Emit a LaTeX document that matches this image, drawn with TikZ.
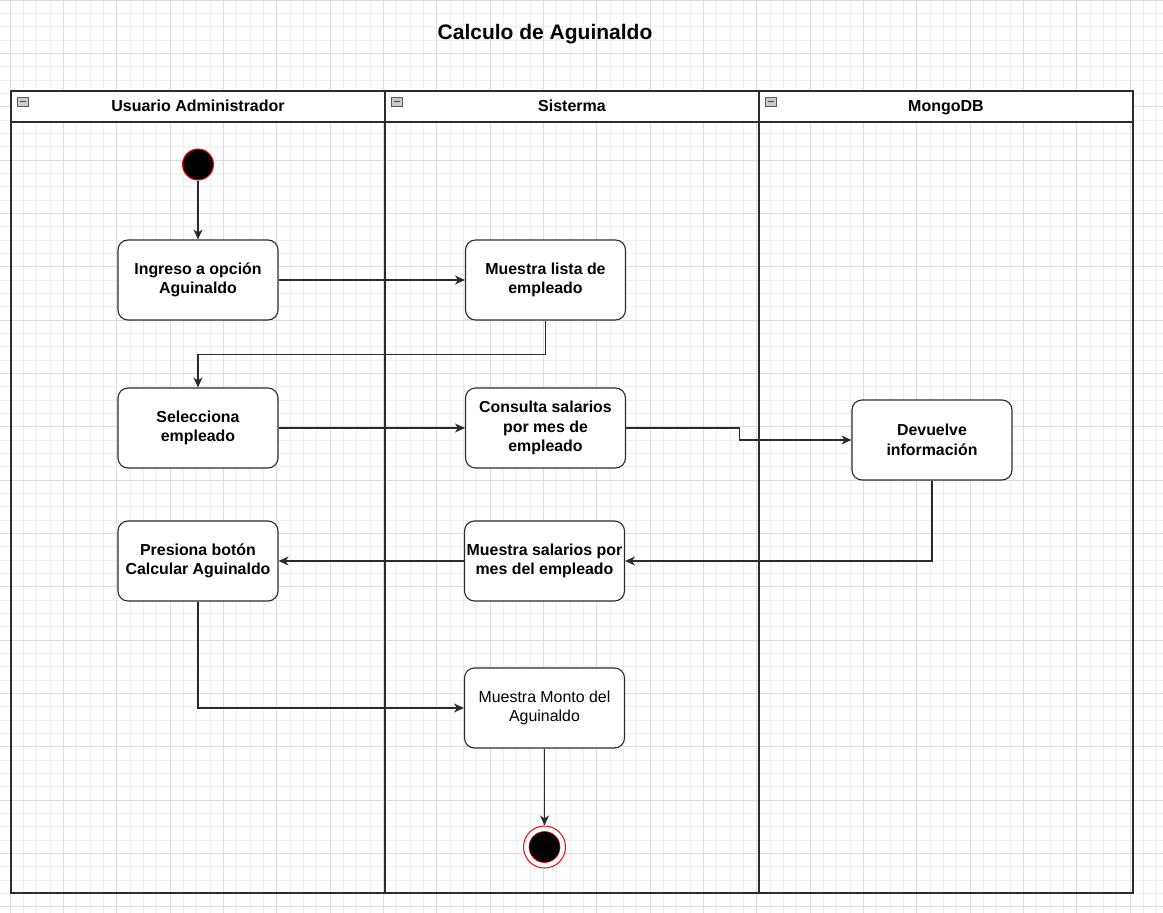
\documentclass[tikz,border=0pt]{standalone}
\usepackage{fontspec}
\setmainfont{Liberation Sans}
\usetikzlibrary{arrows.meta}
\definecolor{gridminor}{HTML}{F0F0F0}
\definecolor{gridmajor}{HTML}{DDDDDD}
\definecolor{linec}{HTML}{2B2B2B}
\definecolor{startred}{HTML}{FF0000}
\definecolor{icongray}{HTML}{C8CCD0}
\begin{document}
\begin{tikzpicture}[x=1pt,y=-1pt,
  act/.style={draw=linec, line width=1.1pt, rounded corners=10pt, fill=white,
    minimum width=160pt, minimum height=80pt, align=center, inner sep=2pt,
    font=\fontsize{15.9}{19.5}\selectfont\bfseries},
  actplain/.style={act, font=\fontsize{15.9}{19.5}\selectfont},
  flow/.style={draw=linec, line width=1.1pt, -{Stealth[length=10pt,width=9pt,inset=3pt]}},
  lanetitle/.style={font=\fontsize{16}{19}\selectfont\bfseries, text height=11.5pt, text depth=3.5pt},
  lanebox/.style={draw=linec, line width=1.5pt},
  icon/.style={draw=gray!70!black, fill=icongray, line width=0.6pt},
  startst/.style={circle, draw=startred, line width=1pt, fill=black, minimum size=31pt, inner sep=0pt},
]
\useasboundingbox (0,0) rectangle (1163,913);
\fill[white] (0,0) rectangle (1163,913);
% grid
\foreach \i in {0,...,87} {
  \draw[gridminor, line width=0.8pt] ({10+(\i-1)*13.3333},0) -- ++(0,913);
}
\foreach \j in {0,...,69} {
  \draw[gridminor, line width=0.8pt] (0,{\j*13.3333}) -- ++(1163,0);
}
\foreach \i in {0,...,22} {
  \draw[gridmajor, line width=0.8pt] ({10+(\i-1)*53.3333},0) -- ++(0,913);
}
\foreach \j in {0,...,17} {
  \draw[gridmajor, line width=0.8pt] (0,{\j*53.3333}) -- ++(1163,0);
}

% title
\node[font=\fontsize{21}{25}\selectfont\bfseries] (title) at (545,34) {Calculo de Aguinaldo};

% pool and lanes
\fill[white] (11,91) rectangle (1133,122);
\draw[lanebox] (11,91) rectangle (1133,893);
\draw[lanebox] (11,122) -- (1133,122);
\draw[lanebox] (385,91) -- (385,893);
\draw[lanebox] (759,91) -- (759,893);
\node[lanetitle] (l1) at (198,107) {Usuario Administrador};
\node[lanetitle] (l2) at (572,107) {Sisterma};
\node[lanetitle] (l3) at (946,107) {MongoDB};
\foreach \xx in {17,391,765} {
  \draw[icon] (\xx,97) rectangle ++(11,9);
  \draw[black!70, line width=1pt] (\xx+2.5,101.5) -- ++(6,0);
}

% nodes
\node[startst] (start) at (198,164.5) {};
\node[act] (ingreso) at (198,280) {Ingreso a opción\\Aguinaldo};
\node[act] (lista) at (545.5,280) {Muestra lista de\\empleado};
\node[act] (selecciona) at (198,428) {Selecciona\\empleado};
\node[act] (consulta) at (545.5,428) {Consulta salarios\\por mes de\\empleado};
\node[act] (devuelve) at (932,440) {Devuelve\\información};
\node[act] (presiona) at (198,561) {Presiona botón\\Calcular Aguinaldo};
\node[act] (msalarios) at (544.5,561) {Muestra salarios por\\mes del empleado};
\node[actplain] (monto) at (544.5,708) {Muestra Monto del\\Aguinaldo};
\node[circle, draw=startred, line width=1pt, fill=white, minimum size=42pt, inner sep=0pt] (endst) at (544.5,847) {};
\node[circle, draw=startred, line width=0.6pt, fill=black, minimum size=31pt, inner sep=0pt] (endin) at (endst.center) {};

% connectors
\draw[flow] (start) -- (ingreso);
\draw[flow] (ingreso) -- (lista);
\draw[flow] (lista.south) -- ++(0,34) -| (selecciona.north);
\draw[flow] (selecciona) -- (consulta);
\draw[flow] (consulta.east) -- ++(113,0) |- (devuelve.west);
\draw[flow] (devuelve.south) |- (msalarios.east);
\draw[flow] (msalarios) -- (presiona);
\draw[flow] (presiona.south) |- (monto.west);
\draw[flow] (monto) -- (endst);
\end{tikzpicture}
\end{document}
